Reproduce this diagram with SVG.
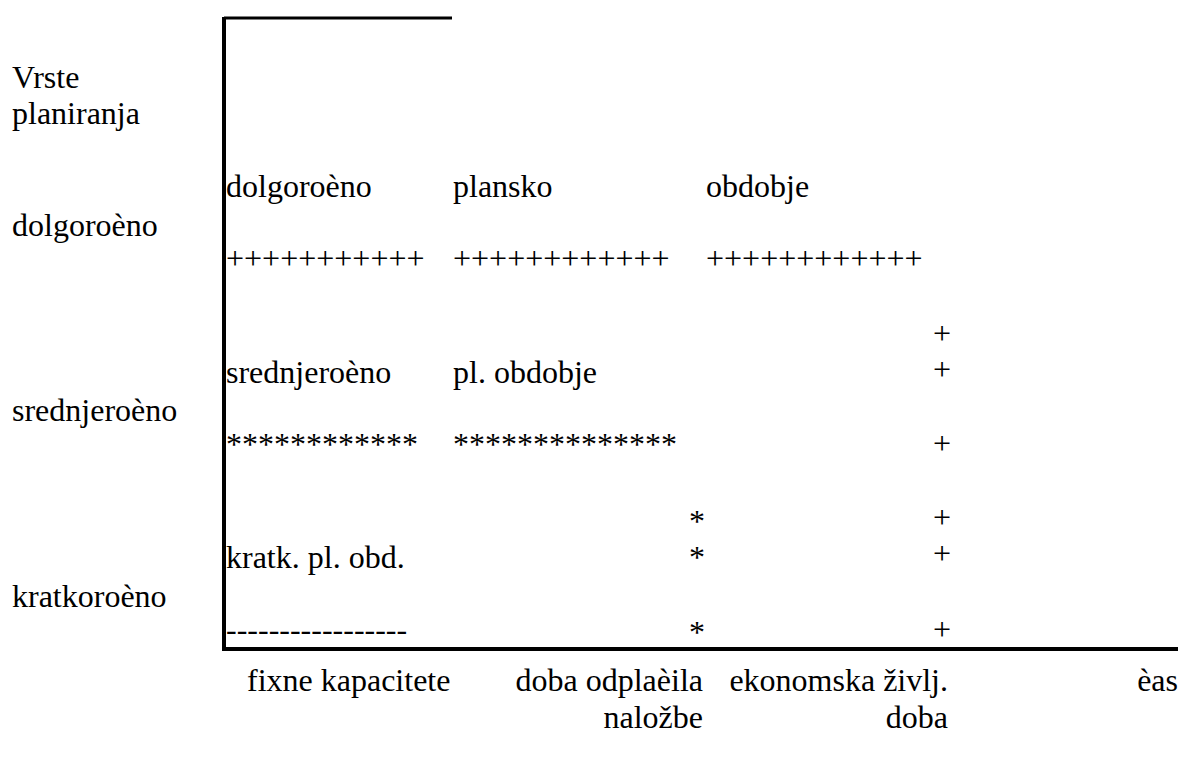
<svg xmlns="http://www.w3.org/2000/svg" width="1181" height="760" viewBox="0 0 1181 760" font-family="serif">
<rect width="1181" height="760" fill="#fff"/>
<g id="axes" stroke="#000" fill="none">
<line x1="224" y1="18" x2="452" y2="18" stroke-width="3"/>
<line x1="224" y1="17" x2="224" y2="651" stroke-width="4"/>
<line x1="222" y1="649" x2="1178" y2="649" stroke-width="4"/>
</g>
<g font-size="32" fill="#000">
<g id="row-labels">
<text font-family="serif" x="12" y="88">Vrste</text>
<text font-family="serif" x="12" y="124">planiranja</text>
<text font-family="serif" x="12" y="236">dolgoroèno</text>
<text font-family="serif" x="12" y="421">srednjeroèno</text>
<text font-family="serif" x="12" y="607">kratkoroèno</text>
</g>
<g id="long-term">
<text font-family="serif" x="226" y="197">dolgoroèno</text>
<text font-family="serif" x="453" y="197">plansko</text>
<text font-family="serif" x="706" y="197">obdobje</text>
<text font-family="serif" x="226" y="269">+++++++++++</text>
<text font-family="serif" x="453" y="269">++++++++++++</text>
<text font-family="serif" x="706" y="269">++++++++++++</text>
</g>
<g id="mid-term">
<text font-family="serif" x="226" y="383">srednjeroèno</text>
<text font-family="serif" x="453" y="383">pl. obdobje</text>
<text font-family="serif" x="226" y="455">************</text>
<text font-family="serif" x="453" y="455">**************</text>
</g>
<g id="short-term">
<text font-family="serif" x="226" y="568">kratk. pl. obd.</text>
<text font-family="serif" x="226" y="640">-----------------</text>
</g>
<g id="asterisk-column">
<text font-family="serif" x="689" y="532">*</text>
<text font-family="serif" x="689" y="568">*</text>
<text font-family="serif" x="689" y="643">*</text>
</g>
<g id="plus-column">
<text font-family="serif" x="933" y="344">+</text>
<text font-family="serif" x="933" y="380">+</text>
<text font-family="serif" x="933" y="454">+</text>
<text font-family="serif" x="933" y="528">+</text>
<text font-family="serif" x="933" y="564">+</text>
<text font-family="serif" x="933" y="640">+</text>
</g>
<g id="x-labels">
<text font-family="serif" x="247" y="691">fixne kapacitete</text>
<text font-family="serif" text-anchor="end" x="703" y="691">doba odplaèila</text>
<text font-family="serif" text-anchor="end" x="703" y="728">naložbe</text>
<text font-family="serif" text-anchor="end" x="948" y="691">ekonomska življ.</text>
<text font-family="serif" text-anchor="end" x="948" y="728">doba</text>
<text font-family="serif" text-anchor="end" x="1178" y="691">èas</text>
</g>
</g>
</svg>
